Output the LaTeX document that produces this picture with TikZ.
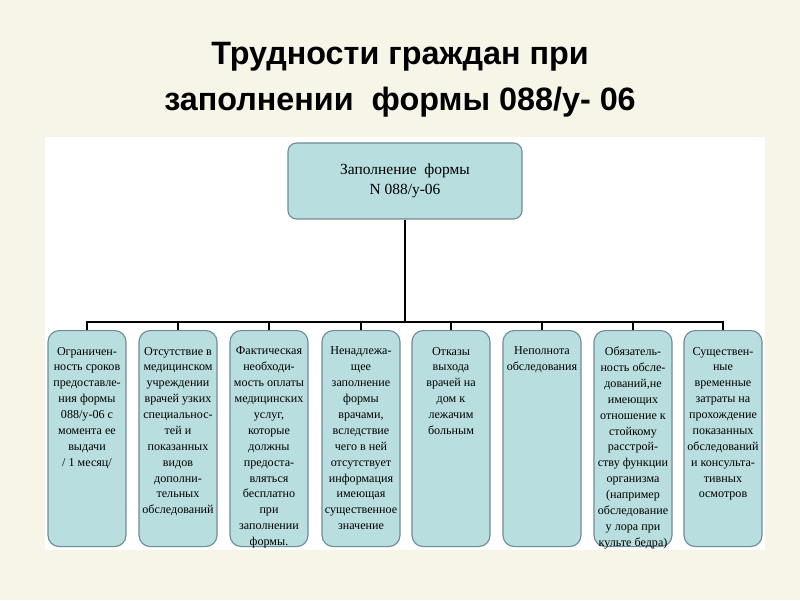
\documentclass[tikz,border=0pt]{standalone}
\usepackage{fontspec}
\setmainfont{Liberation Serif}
\newfontfamily\titlefont{Liberation Sans}
\usetikzlibrary{positioning}
\definecolor{bgcream}{HTML}{F7F4E8}
\definecolor{boxfill}{HTML}{B9DEDF}
\definecolor{boxline}{HTML}{6F8C98}
\begin{document}
\begin{tikzpicture}
\tikzstyle{head}=[rectangle,draw=boxline,fill=boxfill,rounded corners=6pt,
        minimum width=5.85cm,minimum height=1.9cm,line width=0.8pt]
\tikzstyle{cause}=[rectangle,draw=boxline,fill=boxfill,rounded corners=8pt,
        minimum width=1.95cm,minimum height=5.4cm,inner sep=0pt,line width=0.8pt]
\tikzstyle{link}=[line width=1.4pt]
\newcommand{\causetext}[1]{\parbox[t][5.0cm][t]{1.9cm}{\centering\fontsize{8.6}{11.3}\selectfont\vspace*{6pt}#1}}
%fond
\fill[bgcream] (0,0) rectangle (20,15);
\fill[white] (1.125,1.25) rectangle (19.125,11.575);
%titre
\node[font=\titlefont\bfseries\fontsize{23}{33}\selectfont,align=center] (title) at (10,13.0)
  {Трудности граждан при\\заполнении\ \ формы 088/у- 06};
%noeuds
\node[head,align=center,font=\fontsize{11}{14}\selectfont] (form) at (10.125,10.475)
  {Заполнение\ \ формы\\N 088/у-06};
\node[cause] (c1) at (2.175,6.75) [anchor=north] {\causetext{Ограничен-\\ность сроков\\предоставле-\\ния формы\\088/у-06 с\\момента ее\\выдачи\\/ 1 месяц/}};
\node[cause] (c2) at (4.45,6.75) [anchor=north] {\causetext{Отсутствие в\\медицинском\\учреждении\\врачей узких\\специальнос-\\тей и\\показанных\\видов\\дополни-\\тельных\\обследований}};
\node[cause] (c3) at (6.725,6.75) [anchor=north] {\causetext{Фактическая\\необходи-\\мость оплаты\\медицинских\\услуг,\\которые\\должны\\предоста-\\вляться\\бесплатно\\при\\заполнении\\формы.}};
\node[cause] (c4) at (9.025,6.75) [anchor=north] {\causetext{Ненадлежа-\\щее\\заполнение\\формы\\врачами,\\вследствие\\чего в ней\\отсутствует\\информация\\имеющая\\существенное\\значение}};
\node[cause] (c5) at (11.275,6.75) [anchor=north] {\causetext{Отказы\\выхода\\врачей на\\дом к\\лежачим\\больным}};
\node[cause] (c6) at (13.55,6.75) [anchor=north] {\causetext{Неполнота\\обследования}};
\node[cause] (c7) at (15.825,6.75) [anchor=north] {\causetext{Обязатель-\\ность обсле-\\дований,не\\имеющих\\отношение к\\стойкому\\расстрой-\\ству функции\\организма\\(например\\обследование\\у лора при\\культе бедра)}};
\node[cause] (c8) at (18.075,6.75) [anchor=north] {\causetext{Существен-\\ные\\временные\\затраты на\\прохождение\\показанных\\обследований\\и консульта-\\тивных\\осмотров}};
%liens
\coordinate (hub) at (10.125,6.95);
\draw[link] (form.south) -- (hub);
\foreach \i in {1,...,8}
  \draw[link] (hub) -| (c\i.north);
\end{tikzpicture}
\end{document}
